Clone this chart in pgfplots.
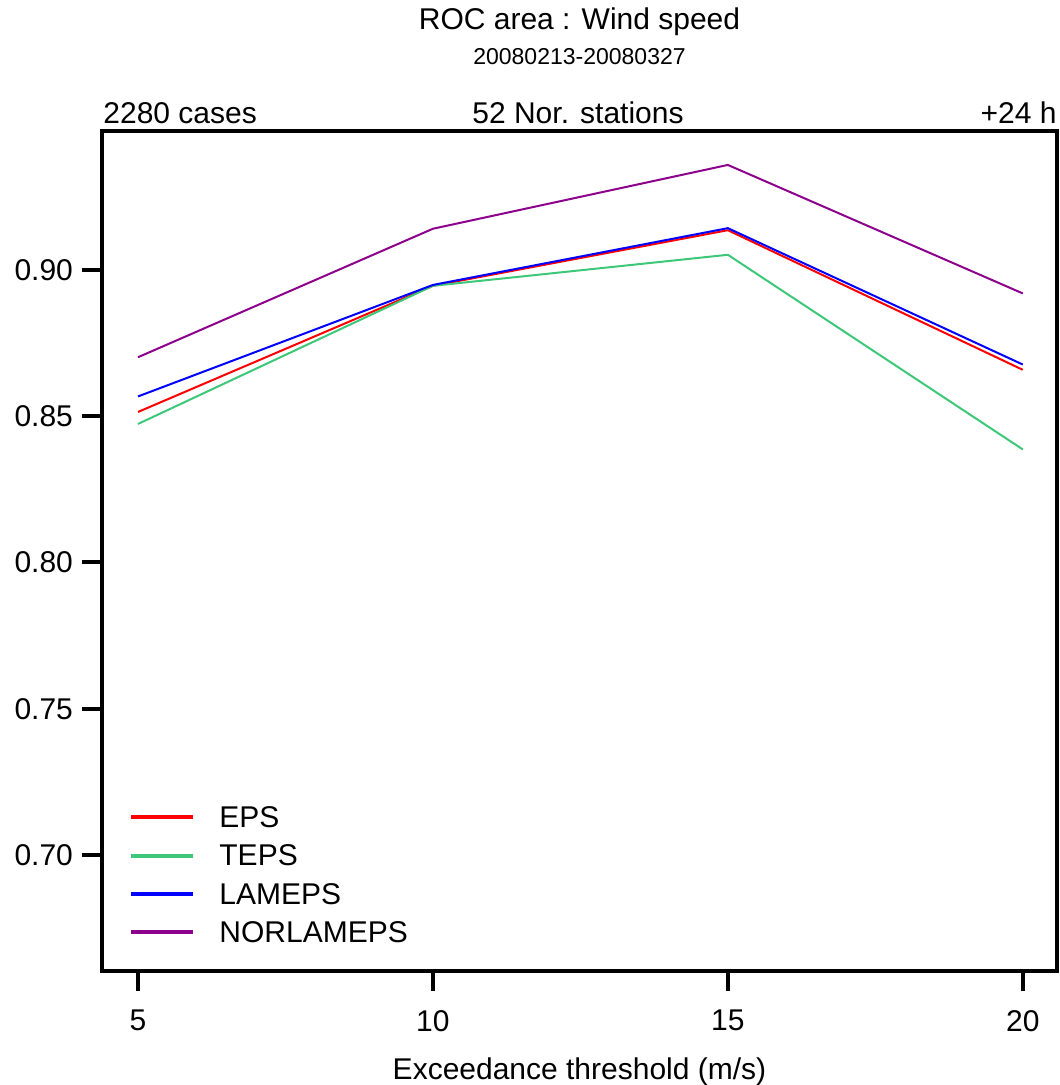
\documentclass[border=0pt]{standalone}
\usepackage{fontspec}
\setmainfont{Liberation Sans}
\usepackage{pgfplots}
\pgfplotsset{compat=1.18}
\definecolor{epsred}{RGB}{255,0,0}
\definecolor{tepsgreen}{RGB}{60,200,120}
\definecolor{lamblue}{RGB}{0,0,255}
\definecolor{norpurple}{RGB}{140,0,140}

\begin{document}
\begin{tikzpicture}
\useasboundingbox (0,0) rectangle (529.5pt,542.5pt);
\begin{axis}[
  at={(51pt,57pt)}, anchor=south west,
  scale only axis,
  width=477.5pt, height=420pt,
  xmin=4.39, xmax=20.58,
  ymin=0.6604, ymax=0.9474,
  xtick={5,10,15,20},
  ytick={0.70,0.75,0.80,0.85,0.90},
  yticklabel style={/pgf/number format/fixed,/pgf/number format/fixed zerofill,/pgf/number format/precision=2,xshift=-1pt},
  xticklabel style={yshift=-6pt},
  /pgf/number format/assume math mode=true,
  tick label style={font=\fontsize{15}{18}\selectfont},
  tick align=outside, tick pos=left,
  major tick length=10pt,
  axis line style={line width=2pt},
  every tick/.style={black, line width=2pt},
  xlabel={Exceedance threshold (m/s)},
  xlabel style={font=\fontsize{15}{18}\selectfont, at={(axis description cs:0.5,-0.1202)}, anchor=center},
  legend cell align=left,
  legend image code/.code={\draw[#1, line width=2pt] (0pt,-0.2pt) -- (31pt,-0.2pt);},
  legend style={draw=none, fill=none, at={(0.022,0.2011)}, anchor=north west,
    font=\fontsize{15}{18}\selectfont,
    nodes={inner sep=0pt, text height=10.5pt, text depth=0pt},
    row sep=8.65pt, column sep=12pt},
]
\addplot[epsred, line width=1pt] coordinates {(5,0.8514) (10,0.8945) (15,0.9135) (20,0.8658)};
\addlegendentry{EPS}
\addplot[tepsgreen, line width=1pt] coordinates {(5,0.8473) (10,0.8945) (15,0.9051) (20,0.8386)};
\addlegendentry{TEPS}
\addplot[lamblue, line width=1pt] coordinates {(5,0.8567) (10,0.8948) (15,0.9142) (20,0.8676)};
\addlegendentry{LAMEPS}
\addplot[norpurple, line width=1pt] coordinates {(5,0.8701) (10,0.9140) (15,0.9358) (20,0.8919)};
\addlegendentry{NORLAMEPS}
\end{axis}
\node[font=\fontsize{15}{18}\selectfont] at (289.75pt,531.5pt) {ROC area : Wind speed};
\node[font=\fontsize{11.5}{14}\selectfont] at (289.75pt,514pt) {20080213-20080327};
\node[font=\fontsize{15}{18}\selectfont, anchor=west, inner sep=0pt] at (51.5pt,486pt) {2280 cases};
\node[font=\fontsize{15}{18}\selectfont] at (289pt,486pt) {52 Nor. stations};
\node[font=\fontsize{15}{18}\selectfont, anchor=east, inner sep=0pt] at (528.5pt,486pt) {+24 h};
\end{tikzpicture}
\end{document}
